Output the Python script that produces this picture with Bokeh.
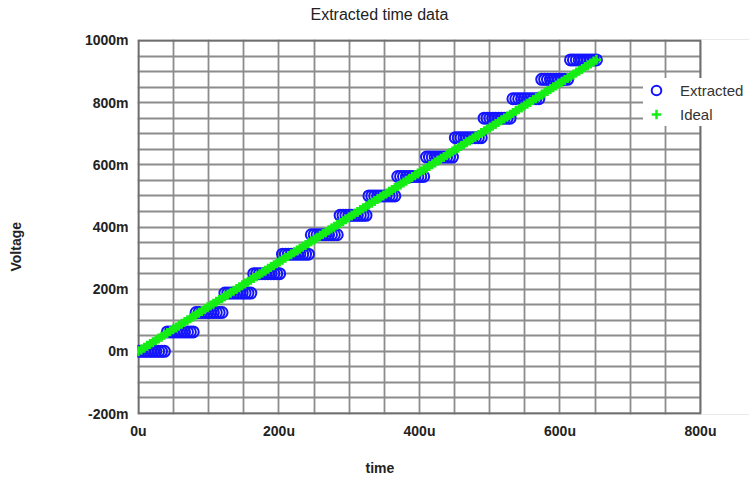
from bokeh.plotting import figure
from bokeh.models import (Range1d, FixedTicker, SingleIntervalTicker, Title,
                          Legend, LegendItem)
from bokeh.embed import file_html
from bokeh.resources import INLINE

# ---------------- data ----------------
time_us = [
    0, 4.1, 8.2, 12.3, 16.4, 20.5, 24.6, 28.7, 32.8, 36.9,
    41, 45.1, 49.2, 53.3, 57.4, 61.5, 65.6, 69.7, 73.8, 77.9,
    82, 86.1, 90.2, 94.3, 98.4, 102.5, 106.6, 110.7, 114.8, 118.9,
    123, 127.1, 131.2, 135.3, 139.4, 143.5, 147.6, 151.7, 155.8, 159.9,
    164, 168.1, 172.2, 176.3, 180.4, 184.5, 188.6, 192.7, 196.8, 200.9,
    205, 209.1, 213.2, 217.3, 221.4, 225.5, 229.6, 233.7, 237.8, 241.9,
    246, 250.1, 254.2, 258.3, 262.4, 266.5, 270.6, 274.7, 278.8, 282.9,
    287, 291.1, 295.2, 299.3, 303.4, 307.5, 311.6, 315.7, 319.8, 323.9,
    328, 332.1, 336.2, 340.3, 344.4, 348.5, 352.6, 356.7, 360.8, 364.9,
    369, 373.1, 377.2, 381.3, 385.4, 389.5, 393.6, 397.7, 401.8, 405.9,
    410, 414.1, 418.2, 422.3, 426.4, 430.5, 434.6, 438.7, 442.8, 446.9,
    451, 455.1, 459.2, 463.3, 467.4, 471.5, 475.6, 479.7, 483.8, 487.9,
    492, 496.1, 500.2, 504.3, 508.4, 512.5, 516.6, 520.7, 524.8, 528.9,
    533, 537.1, 541.2, 545.3, 549.4, 553.5, 557.6, 561.7, 565.8, 569.9,
    574, 578.1, 582.2, 586.3, 590.4, 594.5, 598.6, 602.7, 606.8, 610.9,
    615, 619.1, 623.2, 627.3, 631.4, 635.5, 639.6, 643.7, 647.8, 651.9,
]

ideal_mV = [
    0, 5.9, 11.8, 17.7, 23.6, 29.5, 35.4, 41.3, 47.2, 53.1,
    59, 64.9, 70.8, 76.7, 82.6, 88.5, 94.4, 100.3, 106.2, 112.1,
    118, 123.9, 129.8, 135.7, 141.6, 147.5, 153.4, 159.3, 165.2, 171.1,
    177, 182.9, 188.8, 194.7, 200.6, 206.5, 212.4, 218.3, 224.2, 230.1,
    236, 241.9, 247.8, 253.7, 259.6, 265.5, 271.4, 277.3, 283.2, 289.1,
    295, 300.9, 306.8, 312.7, 318.6, 324.5, 330.4, 336.3, 342.2, 348.1,
    354, 359.9, 365.8, 371.7, 377.6, 383.5, 389.4, 395.3, 401.2, 407.1,
    413, 418.9, 424.8, 430.7, 436.6, 442.5, 448.4, 454.3, 460.2, 466.1,
    472, 477.9, 483.8, 489.7, 495.6, 501.5, 507.4, 513.3, 519.2, 525.1,
    531, 536.9, 542.8, 548.7, 554.6, 560.5, 566.4, 572.3, 578.2, 584.1,
    590, 595.9, 601.8, 607.7, 613.6, 619.5, 625.4, 631.3, 637.2, 643.1,
    649, 654.9, 660.8, 666.7, 672.6, 678.5, 684.4, 690.3, 696.2, 702.1,
    708, 713.9, 719.8, 725.7, 731.6, 737.5, 743.4, 749.3, 755.2, 761.1,
    767, 772.9, 778.8, 784.7, 790.6, 796.5, 802.4, 808.3, 814.2, 820.1,
    826, 831.9, 837.8, 843.7, 849.6, 855.5, 861.4, 867.3, 873.2, 879.1,
    885, 890.9, 896.8, 902.7, 908.6, 914.5, 920.4, 926.3, 932.2, 938.1,
]

extracted_levels_mV = [0, 62.5, 125, 187.5, 250, 312.5, 375, 437.5,
                       500, 562.5, 625, 687.5, 750, 812.5, 875, 937.5]
samples_per_level = 10

x_min, x_max = 0, 800
y_min, y_max = -200, 1000
x_ticks = [0, 200, 400, 600, 800]
x_tick_labels = ["0u", "200u", "400u", "600u", "800u"]
y_ticks = [-200, 0, 200, 400, 600, 800, 1000]
y_tick_labels = ["-200m", "0m", "200m", "400m", "600m", "800m", "1000m"]

title_text = "Extracted time data"
x_label = "time"
y_label = "Voltage"

extracted_mV = [lvl for lvl in extracted_levels_mV for _ in range(samples_per_level)]

FONT = "Liberation Sans"
X_END = 869.75    # frame is widened to the canvas edge so the legend can overhang
Y_PAD = 3.2

# ---------------- figure ----------------
p = figure(width=749, height=479, output_backend="svg", toolbar_location=None,
           x_range=Range1d(x_min - 1.42, X_END),
           y_range=Range1d(y_min - Y_PAD, y_max + Y_PAD))
p.min_border_left = 137
p.min_border_right = 0
p.min_border_top = 39
p.min_border_bottom = 65
p.background_fill_color = "white"
p.border_fill_color = "white"
p.outline_line_color = None

for ax, ticks, labels in ((p.xaxis[0], x_ticks, x_tick_labels),
                          (p.yaxis[0], y_ticks, y_tick_labels)):
    ax.ticker = FixedTicker(ticks=ticks)
    ax.major_label_overrides = {t: l for t, l in zip(ticks, labels)}
    ax.axis_line_color = None
    ax.major_tick_line_color = None
    ax.minor_tick_line_color = None
    ax.major_tick_out = 0
    ax.major_tick_in = 0
    ax.major_label_text_font = FONT
    ax.major_label_text_font_size = "14px"
    ax.major_label_text_font_style = "bold"
    ax.major_label_text_color = "#222222"
p.xaxis.major_label_standoff = 8
p.yaxis.major_label_standoff = 9

# titles; trailing/leading blank lines push the text away from the frame
p.title.text = title_text + "\n"
p.title.align = "left"
p.title.offset = 173
p.title.vertical_align = "top"
p.title.standoff = 0
p.title.text_line_height = 0.9
p.title.text_font = FONT
p.title.text_font_size = "16px"
p.title.text_font_style = "normal"
p.title.text_color = "#222222"

p.add_layout(Title(text="\n" + x_label, align="left", offset=228, standoff=0,
                   vertical_align="bottom",
                   text_font=FONT, text_font_size="14px",
                   text_font_style="bold", text_color="#222222"), "below")
p.add_layout(Title(text=y_label + "\n\n\n", align="left", offset=143, standoff=15,
                   vertical_align="top",
                   text_font=FONT, text_font_size="14px",
                   text_font_style="bold", text_color="#222222"), "left")

p.xgrid.ticker = SingleIntervalTicker(interval=50)
p.ygrid.ticker = SingleIntervalTicker(interval=50)
p.xgrid.bounds = (x_min, x_max)
for g in (p.xgrid, p.ygrid):
    g.grid_line_color = "#8c8c8c"
    g.grid_line_width = 1.8

# white mask right of the plotted box, and the box border
p.quad(left=[x_max], right=[X_END], bottom=[y_min - Y_PAD], top=[y_max + Y_PAD],
       fill_color="white", fill_alpha=1.0, line_color=None)
p.quad(left=[x_min], right=[x_max], bottom=[y_min], top=[y_max],
       fill_color=None, line_color="#6e6e6e", line_width=2)

r_ext = p.scatter(time_us, extracted_mV, marker="circle", size=11,
                  fill_color=None, line_color="#1414ff", line_width=2)
r_ideal = p.scatter(time_us, ideal_mV, marker="cross", size=10,
                    line_color="#14ee14", line_width=2.5)

legend = Legend(items=[LegendItem(label="Extracted", renderers=[r_ext]),
                       LegendItem(label="Ideal", renderers=[r_ideal])],
                location=(506, 288))
legend.background_fill_color = "white"
legend.background_fill_alpha = 1.0
legend.border_line_color = None
legend.padding = 6
legend.spacing = 0
legend.glyph_width = 26
legend.glyph_height = 24
legend.label_height = 24
legend.label_standoff = 11
legend.label_text_font = FONT
legend.label_text_font_size = "15px"
legend.label_text_color = "#333333"
p.add_layout(legend, "center")

open("out.html", "w").write(file_html(p, INLINE))
